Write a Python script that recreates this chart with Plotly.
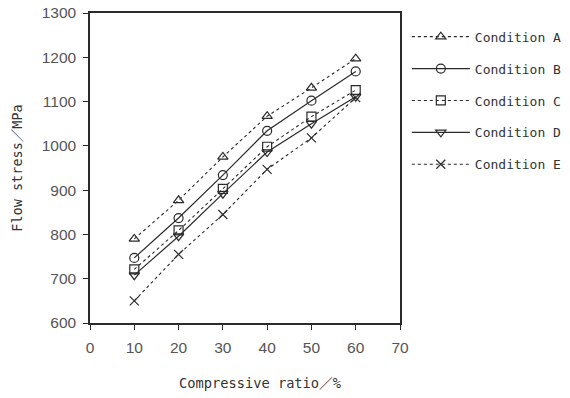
import plotly.graph_objects as go

ratio = [10, 20, 30, 40, 50, 60]
cond_a = [790, 877, 975, 1067, 1131, 1197]
cond_b = [747, 837, 934, 1034, 1102, 1168]
cond_c = [721, 809, 903, 998, 1066, 1126]
cond_d = [708, 796, 892, 986, 1050, 1111]
cond_e = [650, 755, 845, 947, 1018, 1109]
names = ["Condition A", "Condition B", "Condition C", "Condition D", "Condition E"]
series = [cond_a, cond_b, cond_c, cond_d, cond_e]
symbols = ["triangle-up-open", "circle-open", "square-open", "triangle-down-open", "x-thin-open"]
dashes = ["dot", "solid", "dot", "solid", "dot"]
x_title = "Compressive ratio／%"
y_title = "Flow stress／MPa"

ink = "#2a2a2a"
mono = "DejaVu Sans Mono, Noto Sans CJK JP, monospace"

fig = go.Figure()
for i, (nm, ys) in enumerate(zip(names, series)):
    fig.add_trace(go.Scatter(
        x=ratio, y=ys, name=nm, mode="lines+markers",
        legendgroup=nm,
        line=dict(color=ink, width=1.2 if dashes[i] == "solid" else 1.1, dash=dashes[i]),
        marker=dict(symbol=symbols[i], size=9, color=ink,
                    line=dict(color=ink, width=1.2)),
    ))

fig.add_annotation(text=x_title, xref="paper", yref="paper", x=0.5, y=0,
                   xanchor="center", yanchor="middle", xshift=15, yshift=-60,
                   showarrow=False,
                   font=dict(family=mono, size=13.7, color="#333"))

fig.update_layout(
    width=570, height=398,
    margin=dict(l=90, r=170, t=13, b=75, autoexpand=False),
    paper_bgcolor="white", plot_bgcolor="white",
    font=dict(family="Liberation Sans, Arial", color="#444", size=15),
    showlegend=True,
    legend=dict(x=1.022, y=0.972, xanchor="left", yanchor="top",
                font=dict(family=mono, size=13, color="#333"),
                tracegroupgap=12, itemwidth=58,
                bgcolor="rgba(0,0,0,0)"),
    xaxis=dict(range=[0, 70], tickvals=[0, 10, 20, 30, 40, 50, 60, 70],
               ticks="outside", ticklen=5, tickcolor=ink, automargin=False,
               showline=True, linecolor=ink, linewidth=1.5, mirror=True,
               showgrid=False, zeroline=False, ticklabelstandoff=5,
               tickfont=dict(size=15.5, color="#555")),
    yaxis=dict(range=[600, 1300], tickvals=[600, 700, 800, 900, 1000, 1100, 1200, 1300],
               ticks="outside", ticklen=5, tickcolor=ink, automargin=False,
               showline=True, linecolor=ink, linewidth=1.5, mirror=True,
               showgrid=False, zeroline=False, ticklabelstandoff=4,
               tickfont=dict(size=15.5, color="#555"),
               title=dict(text=y_title, font=dict(family=mono, size=13.5, color="#333"),
                          standoff=16)),
)

fig.write_html("out.html", config={"displayModeBar": False},
               post_script="document.body.style.margin='0';")
